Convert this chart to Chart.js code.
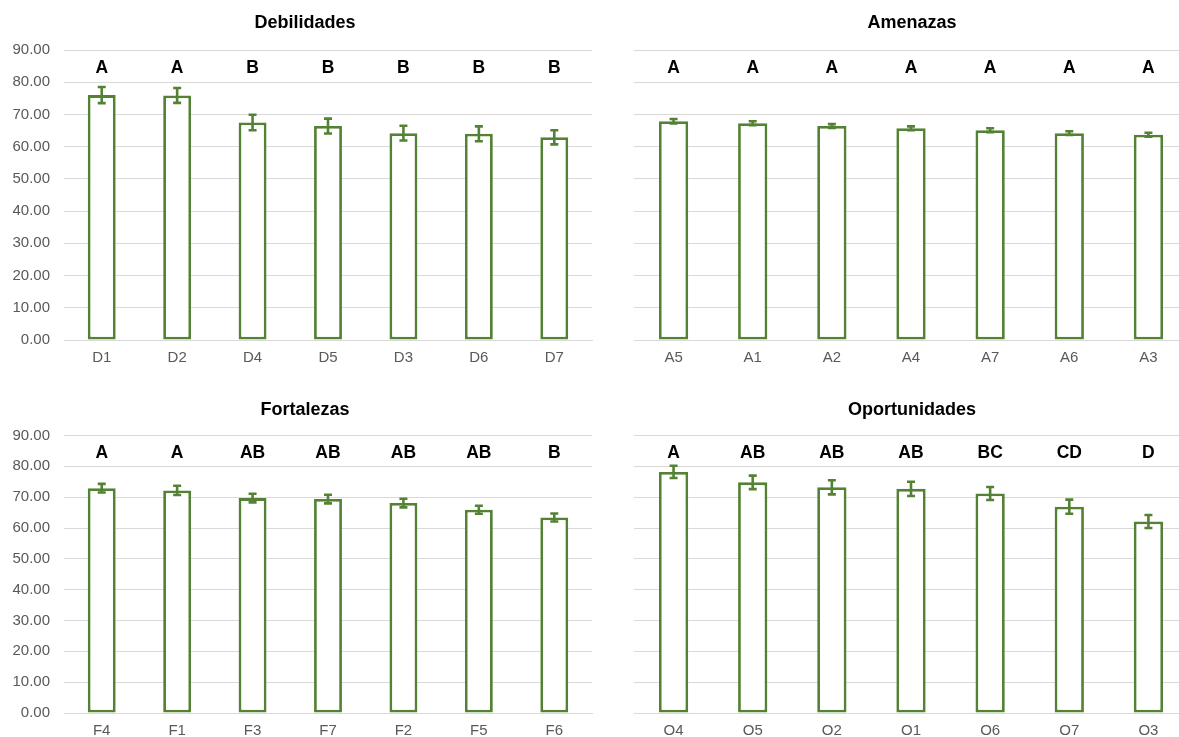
<!DOCTYPE html>
<html>
<head>
<meta charset="utf-8">
<script src="https://cdn.jsdelivr.net/npm/chart.js@4.4.1/dist/chart.umd.min.js"></script>
<style>
  html, body { margin: 0; padding: 0; background: #fff; overflow: hidden; width: 1179px; height: 737px; }
  .panel { position: absolute; }
</style>
</head>
<body>
<div class="panel" style="left:0;top:0;width:610px;height:370px"><canvas id="cDeb"></canvas></div>
<div class="panel" style="left:624px;top:0;width:576px;height:370px"><canvas id="cAme"></canvas></div>
<div class="panel" style="left:0;top:370px;width:610px;height:367px"><canvas id="cFor"></canvas></div>
<div class="panel" style="left:624px;top:370px;width:576px;height:367px"><canvas id="cOpo"></canvas></div>
<script>
// ── data ──
const debCats = ['D1', 'D2', 'D4', 'D5', 'D3', 'D6', 'D7'];
const debMeans = [76.0, 75.9, 67.5, 66.4, 64.2, 64.0, 62.9];
const debErr = [2.5, 2.3, 2.4, 2.3, 2.3, 2.3, 2.2];
const debLetters = ['A', 'A', 'B', 'B', 'B', 'B', 'B'];

const ameCats = ['A5', 'A1', 'A2', 'A4', 'A7', 'A6', 'A3'];
const ameMeans = [67.9, 67.3, 66.4, 65.7, 65.1, 64.2, 63.7];
const ameErr = [0.7, 0.6, 0.6, 0.6, 0.6, 0.6, 0.6];
const ameLetters = ['A', 'A', 'A', 'A', 'A', 'A', 'A'];

const forCats = ['F4', 'F1', 'F3', 'F7', 'F2', 'F5', 'F6'];
const forMeans = [72.9, 72.2, 69.7, 69.4, 68.1, 65.9, 63.4];
const forErr = [1.4, 1.5, 1.4, 1.4, 1.4, 1.3, 1.3];
const forLetters = ['A', 'A', 'AB', 'AB', 'AB', 'AB', 'B'];

const opoCats = ['O4', 'O5', 'O2', 'O1', 'O6', 'O7', 'O3'];
const opoMeans = [78.2, 74.8, 73.2, 72.7, 71.2, 66.9, 62.1];
const opoErr = [2.0, 2.2, 2.3, 2.3, 2.1, 2.3, 2.1];
const opoLetters = ['A', 'AB', 'AB', 'AB', 'BC', 'CD', 'D'];

const yMin = 0, yMax = 90, yStep = 10;
const letterLevel = 84.3; // where the group letters sit

const GREEN = '#548235';
const GRID = '#d9d9d9';
const FONT = '"Liberation Sans", Arial, sans-serif';

// error bars, group letters and the panel title
function annotations(errors, letters, title, titleY) {
  return {
    id: 'annot',
    afterDatasetsDraw(chart) {
      const { ctx, scales: { x, y } } = chart;
      const vals = chart.data.datasets[0].data;
      ctx.save();
      ctx.strokeStyle = GREEN;
      ctx.lineWidth = 2.6;
      errors.forEach((e, i) => {
        const cx = x.getPixelForValue(i);
        const top = y.getPixelForValue(vals[i] + e);
        const bot = y.getPixelForValue(vals[i] - e);
        ctx.beginPath();
        ctx.moveTo(cx, top); ctx.lineTo(cx, bot);
        ctx.moveTo(cx - 4, top); ctx.lineTo(cx + 4, top);
        ctx.moveTo(cx - 4, bot); ctx.lineTo(cx + 4, bot);
        ctx.stroke();
      });
      ctx.fillStyle = '#000';
      ctx.textAlign = 'center';
      ctx.textBaseline = 'middle';
      ctx.font = 'bold 17.5px ' + FONT;
      letters.forEach((t, i) => {
        ctx.fillText(t, x.getPixelForValue(i), y.getPixelForValue(letterLevel));
      });
      ctx.font = 'bold 18px ' + FONT;
      ctx.fillText(title, chart.width / 2, titleY);
      ctx.restore();
    }
  };
}

function makePanel(id, cats, means, errs, letters, title, cfg) {
  const ctx = document.getElementById(id).getContext('2d');
  return new Chart(ctx, {
    type: 'bar',
    data: {
      labels: cats,
      datasets: [{
        data: means,
        backgroundColor: '#fff',
        borderColor: GREEN,
        borderWidth: 2.8,
        borderSkipped: false,
        barPercentage: 0.37,
        categoryPercentage: 1
      }]
    },
    options: {
      responsive: true,
      maintainAspectRatio: false,
      animation: false,
      layout: { padding: cfg.padding },
      plugins: { legend: { display: false }, tooltip: { enabled: false }, title: { display: false } },
      scales: {
        x: {
          grid: { display: false, drawTicks: false },
          border: { display: true, color: GRID, width: 1 },
          ticks: { color: '#595959', font: { family: FONT, size: 15 }, padding: 9 },
          afterFit: s => { s.height = cfg.xHeight; }
        },
        y: {
          min: yMin, max: yMax,
          grid: { color: GRID, lineWidth: 1, drawTicks: false },
          border: { display: false },
          ticks: {
            display: cfg.yLabels,
            stepSize: yStep,
            color: '#595959',
            font: { family: FONT, size: 15 },
            padding: 14,
            callback: v => v.toFixed(2)
          },
          afterFit: s => { s.width = cfg.yWidth; }
        }
      }
    },
    plugins: [annotations(errs, letters, title, cfg.titleY)]
  });
}

makePanel('cDeb', debCats, debMeans, debErr, debLetters, 'Debilidades',
  { padding: { top: 50, right: 18, bottom: 0, left: 0 }, xHeight: 30, yWidth: 64, yLabels: true, titleY: 23 });
makePanel('cAme', ameCats, ameMeans, ameErr, ameLetters, 'Amenazas',
  { padding: { top: 50, right: 12, bottom: 0, left: 0 }, xHeight: 30, yWidth: 10, yLabels: false, titleY: 23 });
makePanel('cFor', forCats, forMeans, forErr, forLetters, 'Fortalezas',
  { padding: { top: 65.5, right: 18, bottom: 0, left: 0 }, xHeight: 24, yWidth: 64, yLabels: true, titleY: 40 });
makePanel('cOpo', opoCats, opoMeans, opoErr, opoLetters, 'Oportunidades',
  { padding: { top: 65.5, right: 12, bottom: 0, left: 0 }, xHeight: 24, yWidth: 10, yLabels: false, titleY: 40 });
</script>
</body>
</html>
